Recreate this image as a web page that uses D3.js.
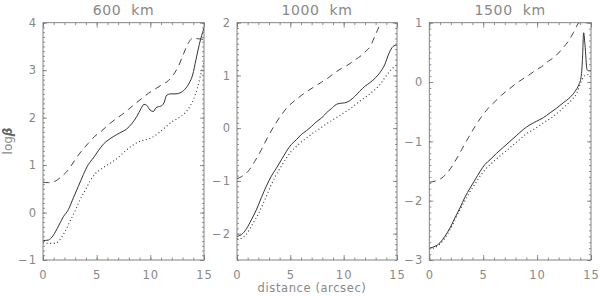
<!DOCTYPE html>
<html><head><meta charset="utf-8">
<script src="https://cdn.jsdelivr.net/npm/d3@7"></script>
<style>
body{margin:0;background:#fff;}
svg{display:block;}
text{font-family:"DejaVu Sans",sans-serif;fill:#888;}
</style></head>
<body>
<svg id="c" width="600" height="296"></svg>
<script>
// ---- data ----
const panelTitles = ["600  km", "1000  km", "1500  km"];
const xTickLabels = [0, 5, 10, 15];
const yTicks600 = [-1, 0, 1, 2, 3, 4];
const yTicks1000 = [-2, -1, 0, 1, 2];
const yTicks1500 = [-3, -2, -1, 0, 1];
const yDomains = [[-1, 4], [-2.5, 2], [-3, 1]];

const solid600 = [[0,-0.59],[0.5,-0.58],[0.96,-0.48],[1.43,-0.29],[1.89,-0.09],[2.36,0.06],[2.83,0.31],[3.29,0.55],[3.76,0.80],[4.22,1.01],[4.69,1.15],[5.15,1.30],[5.62,1.44],[6.09,1.53],[6.55,1.60],[7.17,1.68],[7.79,1.76],[8.26,1.87],[8.73,2.02],[9.13,2.19],[9.41,2.28],[9.66,2.26],[9.97,2.16],[10.28,2.13],[10.5,2.20],[10.75,2.23],[10.96,2.24],[11.27,2.31],[11.52,2.47],[11.89,2.50],[12.3,2.50],[12.76,2.52],[13.23,2.60],[13.63,2.73],[13.94,2.90],[14.25,3.22],[14.56,3.54],[15,3.89]];
const dashed600 = [[0,0.64],[0.5,0.63],[1.12,0.66],[1.74,0.76],[2.36,0.90],[2.98,1.11],[3.6,1.30],[4.22,1.46],[4.84,1.61],[5.47,1.72],[6.09,1.85],[6.71,1.96],[7.33,2.06],[7.95,2.17],[8.57,2.29],[9.19,2.40],[9.81,2.51],[10.43,2.60],[11.06,2.69],[11.68,2.78],[12.14,2.90],[12.61,3.08],[13.07,3.33],[13.54,3.57],[14.0,3.68],[14.47,3.66],[15,3.65]];
const dotted600 = [[0,-0.64],[0.5,-0.65],[1.12,-0.65],[1.58,-0.57],[2.05,-0.40],[2.52,-0.18],[2.98,0.03],[3.45,0.27],[3.91,0.46],[4.38,0.66],[4.84,0.81],[5.31,0.90],[5.78,0.97],[6.40,1.06],[7.02,1.16],[7.64,1.29],[8.26,1.40],[8.88,1.49],[9.5,1.53],[10.12,1.58],[10.75,1.67],[11.37,1.79],[11.99,1.91],[12.61,1.99],[13.23,2.10],[13.70,2.24],[14.07,2.41],[14.38,2.62],[14.69,2.90],[15,3.15]];

const solid1000 = [[0,-2.05],[0.41,-2.02],[0.88,-1.91],[1.34,-1.74],[1.81,-1.55],[2.28,-1.32],[2.75,-1.10],[3.22,-0.91],[3.69,-0.76],[4.16,-0.60],[4.63,-0.44],[5.09,-0.31],[5.56,-0.22],[6.03,-0.12],[6.5,-0.05],[6.97,0.03],[7.44,0.12],[7.91,0.19],[8.38,0.29],[8.84,0.37],[9.31,0.45],[9.63,0.47],[10.09,0.48],[10.56,0.52],[11.03,0.60],[11.5,0.70],[11.97,0.79],[12.44,0.86],[12.91,0.94],[13.38,1.05],[13.84,1.20],[14.25,1.42],[14.63,1.55],[15,1.58]];
const dashed1000 = [[0,-0.96],[0.41,-0.92],[1.03,-0.82],[1.66,-0.63],[2.28,-0.41],[2.91,-0.16],[3.53,0.06],[4.16,0.25],[4.78,0.41],[5.41,0.52],[6.03,0.62],[6.66,0.71],[7.28,0.79],[7.91,0.87],[8.53,0.95],[9.16,1.05],[9.78,1.13],[10.41,1.20],[11.03,1.29],[11.66,1.38],[12.13,1.47],[12.5,1.55],[12.91,1.74],[13.38,1.96],[13.7,2.15]];
const dotted1000 = [[0,-2.10],[0.41,-2.09],[0.88,-2.01],[1.34,-1.86],[1.81,-1.70],[2.28,-1.51],[2.75,-1.29],[3.22,-1.07],[3.69,-0.88],[4.16,-0.72],[4.63,-0.57],[5.09,-0.44],[5.56,-0.35],[6.03,-0.26],[6.5,-0.19],[7.13,-0.09],[7.75,-0.01],[8.38,0.08],[9.0,0.16],[9.63,0.24],[10.25,0.32],[10.88,0.41],[11.5,0.51],[12.13,0.60],[12.75,0.70],[13.38,0.82],[13.84,0.95],[14.31,1.08],[15,1.20]];

const solid1500 = [[0,-2.80],[0.53,-2.77],[0.99,-2.71],[1.45,-2.60],[1.92,-2.46],[2.38,-2.29],[2.85,-2.12],[3.31,-1.94],[3.77,-1.79],[4.24,-1.65],[4.70,-1.51],[5.16,-1.39],[5.63,-1.31],[6.25,-1.20],[6.87,-1.10],[7.48,-1.00],[8.10,-0.90],[8.72,-0.80],[9.34,-0.72],[9.96,-0.66],[10.58,-0.60],[11.2,-0.52],[11.81,-0.44],[12.43,-0.35],[13.05,-0.26],[13.51,-0.16],[13.88,-0.04],[14.07,0.07],[14.2,0.35],[14.32,0.83],[14.44,0.63],[14.63,0.21],[14.75,0.19],[15,0.19]];
const dashed1500 = [[0,-1.69],[0.53,-1.67],[1.14,-1.62],[1.76,-1.51],[2.38,-1.34],[3.0,-1.14],[3.62,-0.94],[4.24,-0.75],[4.86,-0.58],[5.47,-0.44],[6.09,-0.33],[6.71,-0.22],[7.33,-0.13],[7.95,-0.04],[8.57,0.04],[9.19,0.11],[9.8,0.19],[10.42,0.26],[11.04,0.35],[11.66,0.43],[12.28,0.55],[12.9,0.69],[13.36,0.83],[13.67,0.94],[13.89,1.0],[15,1.0]];
const dotted1500 = [[0,-2.81],[0.53,-2.79],[0.99,-2.73],[1.45,-2.63],[1.92,-2.49],[2.38,-2.32],[2.85,-2.15],[3.31,-2.00],[3.77,-1.85],[4.24,-1.72],[4.70,-1.59],[5.16,-1.48],[5.78,-1.37],[6.40,-1.27],[7.02,-1.18],[7.64,-1.08],[8.26,-0.99],[8.88,-0.89],[9.49,-0.82],[10.11,-0.75],[10.73,-0.67],[11.35,-0.60],[11.97,-0.51],[12.59,-0.41],[13.21,-0.30],[13.67,-0.19],[13.98,-0.04],[14.29,0.08],[14.59,0.12],[15,0.13]];

// ---- layout ----
const svg = d3.select("#c");
const yTop = 22.7, yBot = 260;
const panels = [
  {x0:43, x1:204, yt:yTicks600, series:[solid600,dashed600,dotted600]},
  {x0:237, x1:397, yt:yTicks1000, series:[solid1000,dashed1000,dotted1000]},
  {x0:429.3, x1:591, yt:yTicks1500, series:[solid1500,dashed1500,dotted1500]}
];
const styles = [
  {stroke:"#333", dash:null, w:1},
  {stroke:"#444", dash:"6.5,5", w:1},
  {stroke:"#333", dash:"1,2.6", w:1.1}
];
const axisColor = "#777";

panels.forEach((p, i) => {
  const x = d3.scaleLinear().domain([0,15]).range([p.x0, p.x1]);
  const y = d3.scaleLinear().domain(yDomains[i]).range([yBot, yTop]);
  const g = svg.append("g");

  g.append("clipPath").attr("id","clip"+i).append("rect")
    .attr("x",p.x0).attr("y",yTop).attr("width",p.x1-p.x0).attr("height",yBot-yTop);

  const line = d3.line().x(d=>x(d[0])).y(d=>y(d[1])).curve(d3.curveMonotoneX);
  p.series.forEach((s, k) => {
    g.append("path").attr("d", line(s)).attr("fill","none")
      .attr("stroke", styles[k].stroke).attr("stroke-width", styles[k].w)
      .attr("stroke-dasharray", styles[k].dash)
      .attr("clip-path","url(#clip"+i+")");
  });

  const minorX = d3.range(0, 16, 1);
  const [ylo, yhi] = yDomains[i];
  const minorY = d3.range(Math.round(ylo*10), Math.round(yhi*10)+1).map(v=>v/10);

  function styleAxis(sel){
    sel.select(".domain").remove();
    sel.selectAll(".tick line").attr("stroke", axisColor).attr("stroke-width",0.8);
    sel.selectAll("text").attr("fill","#888").style("font-size","11.5px").style("letter-spacing","1px")
      .style("font-family","'DejaVu Sans',sans-serif");
  }
  g.append("g").attr("transform",`translate(0,${yBot})`)
    .call(d3.axisBottom(x).tickValues(minorX).tickSize(-2.5).tickFormat("")).call(styleAxis);
  g.append("g").attr("transform",`translate(0,${yBot})`)
    .call(d3.axisBottom(x).tickValues(xTickLabels).tickSize(-5).tickPadding(10.5).tickFormat(d3.format("d"))).call(styleAxis);
  g.append("g").attr("transform",`translate(0,${yTop})`)
    .call(d3.axisTop(x).tickValues(minorX).tickSize(-2.5).tickFormat("")).call(styleAxis);
  g.append("g").attr("transform",`translate(0,${yTop})`)
    .call(d3.axisTop(x).tickValues(xTickLabels).tickSize(-5).tickFormat("")).call(styleAxis);
  g.append("g").attr("transform",`translate(${p.x0},0)`)
    .call(d3.axisLeft(y).tickValues(minorY).tickSize(-2).tickFormat("")).call(styleAxis);
  g.append("g").attr("transform",`translate(${p.x0},0)`)
    .call(d3.axisLeft(y).tickValues(p.yt).tickSize(-4).tickPadding(6).tickFormat(d=>String(d).replace("-","\u2212"))).call(styleAxis);
  g.append("g").attr("transform",`translate(${p.x1},0)`)
    .call(d3.axisRight(y).tickValues(minorY).tickSize(-2).tickFormat("")).call(styleAxis);
  g.append("g").attr("transform",`translate(${p.x1},0)`)
    .call(d3.axisRight(y).tickValues(p.yt).tickSize(-4).tickFormat("")).call(styleAxis);

  g.append("rect").attr("x",p.x0).attr("y",yTop).attr("width",p.x1-p.x0).attr("height",yBot-yTop)
    .attr("fill","none").attr("stroke",axisColor).attr("stroke-width",0.9);

  g.append("text").attr("x",(p.x0+p.x1)/2).attr("y",15).attr("text-anchor","middle")
    .attr("fill","#8a8a8a")
    .style("font-size","14px").style("letter-spacing","0.6px").style("white-space","pre").text(panelTitles[i]);
});

svg.append("text").attr("x",312).attr("y",292).attr("text-anchor","middle")
  .style("font-size","11.5px").style("letter-spacing","0.6px").text("distance (arcsec)");

const yl = svg.append("text").attr("transform","translate(12,141) rotate(-90)").attr("text-anchor","middle")
  .style("font-size","12px");
yl.append("tspan").text("log");
yl.append("tspan").style("font-weight","bold").style("font-style","italic").attr("fill","#666").text("β");
</script>
</body></html>
